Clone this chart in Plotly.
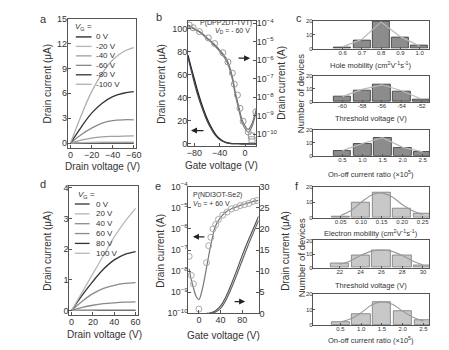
import plotly.graph_objects as go

W, H = 449, 350
FONT = "Liberation Sans, Arial, sans-serif"
TXT = "#333333"
AX = "#555555"

# ---------------- data ----------------
# panel a: output curves (p-type), drain voltage 0..-60 V
a_vd = [0, -10, -20, -30, -40, -50, -60]
a_vg_labels = ["0 V", "-20 V", "-40 V", "-60 V", "-80 V", "-100 V"]
a_id = [
    [0, 0, 0, 0, 0, 0, 0],
    [0, 0.05, 0.08, 0.1, 0.1, 0.1, 0.1],
    [0, 0.35, 0.6, 0.75, 0.8, 0.82, 0.85],
    [0, 1.0, 1.8, 2.4, 2.7, 2.8, 2.8],
    [0, 1.9, 3.6, 4.8, 5.6, 6.0, 6.2],
    [0, 3.3, 6.2, 8.4, 10.0, 11.0, 11.5],
]
a_colors = ["#222222", "#b5b5b5", "#a0a0a0", "#8a8a8a", "#333333", "#b0b0b0"]

# panel b: transfer curves (p-type)
b_vg = [-90, -85, -80, -75, -70, -65, -60, -55, -50, -45, -40, -35, -30, -25, -20, -10, 0, 18]
b_lin1 = [77, 66, 56, 46, 37, 29, 22, 16, 11, 7, 4.3, 2.4, 1.2, 0.5, 0.2, 0.05, 0, 0]
b_lin2 = [75, 64, 53, 43, 34.5, 27, 20, 14.5, 9.8, 6.2, 3.7, 2.0, 1.0, 0.4, 0.15, 0.03, 0, 0]
b_vg_log = [-90, -80, -70, -60, -50, -40, -30, -25, -20, -15, -10, -5, 0, 5, 10, 15, 18]
b_log1 = [7.9e-5, 5.0e-5, 3.2e-5, 1.6e-5, 7.9e-6, 3.5e-6, 1.26e-6, 5.0e-7, 1.26e-7, 1.6e-8, 3.2e-9, 6.3e-10, 2.8e-10, 1.8e-10, 3.2e-10, 1.0e-9, 2.5e-9]
b_log2 = [7.4e-5, 4.6e-5, 2.9e-5, 1.45e-5, 7.0e-6, 3.0e-6, 1.0e-6, 3.8e-7, 8.9e-8, 1.1e-8, 2.2e-9, 4.5e-10, 2.0e-10, 1.3e-10, 2.2e-10, 7.0e-10, 1.8e-9]
b_circ_x = [-88, -82, -72, -58, -48, -35, -27, -20, -17, -12, -8, -3, 5, 17]
b_circ_y = [7.9e-5, 5.6e-5, 3.5e-5, 1.6e-5, 7.9e-6, 2.5e-6, 7.9e-7, 2.0e-7, 5.0e-8, 1.3e-8, 2.5e-9, 5.0e-10, 1.3e-10, 1.6e-9]
b_sq_x = [10, 11]
b_sq_y = [8.0e-11, 5.0e-11]

# panel c: histograms (p-type)
c1_x = [0.6, 0.7, 0.8, 0.9, 1.0]
c1_n = [1, 6, 19, 8, 2]
c1_fit = [1.2, 6.5, 19, 8.5, 1.8]
c2_x = [-60, -58, -56, -54, -52]
c2_n = [4, 9, 13, 8, 2]
c2_fit = [4, 9.5, 13, 8.5, 2.2]
c3_x = [0.5, 1.0, 1.5, 2.0, 2.5]
c3_n = [4, 9, 14, 6, 3]
c3_fit = [4, 9.5, 14, 6.5, 3]
c1_labels = ["0.6", "0.7", "0.8", "0.9", "1.0"]
c2_labels = ["-60", "-58", "-56", "-54", "-52"]
c3_labels = ["0.5", "1.0", "1.5", "2.0", "2.5"]

# panel d: output curves (n-type)
d_vd = [0, 10, 20, 30, 40, 50, 60]
d_vg_labels = ["0 V", "20 V", "40 V", "60 V", "80 V", "100 V"]
d_id = [
    [0, 0, 0, 0, 0, 0, 0],
    [0, 0.01, 0.015, 0.02, 0.02, 0.02, 0.02],
    [0, 0.1, 0.17, 0.22, 0.25, 0.27, 0.28],
    [0, 0.3, 0.55, 0.72, 0.82, 0.88, 0.91],
    [0, 0.5, 0.95, 1.35, 1.65, 1.83, 1.92],
    [0, 0.6, 1.2, 1.8, 2.4, 2.9, 3.33],
]
d_colors = ["#333333", "#b5b5b5", "#8a8a8a", "#8a8a8a", "#333333", "#b8b8b8"]

# panel e: transfer curves (n-type)
e_vg_log = [-18, -15, -10, -5, 0, 5, 10, 15, 20, 25, 30, 40, 50, 60, 70, 80, 90, 100, 110]
e_log = [1.3e-8, 5.0e-9, 1.6e-9, 6.3e-10, 4.5e-10, 1.0e-9, 4.0e-9, 2.0e-8, 1.0e-7, 4.0e-7, 1.26e-6, 3.5e-6, 6.3e-6, 8.9e-6, 1.12e-5, 1.4e-5, 1.66e-5, 2.0e-5, 2.24e-5]
e_circ_x = [-18, -14, -10, 0, 14, 18, 22, 26, 31, 36, 44, 52, 60, 68, 76, 84, 92, 100, 107]
e_circ_y = [5.0e-8, 6.3e-9, 2.5e-9, 1.6e-10, 2.5e-8, 1.6e-7, 4.0e-7, 1.0e-6, 1.6e-6, 2.8e-6, 4.5e-6, 6.3e-6, 8.9e-6, 1.0e-5, 1.26e-5, 1.4e-5, 1.6e-5, 2.0e-5, 2.2e-5]
e_vg_lin = [15, 20, 30, 40, 50, 60, 70, 80, 90, 100, 110]
e_lin1 = [0, 0.1, 0.6, 1.8, 4.0, 7.0, 10.3, 13.8, 17.0, 20.0, 23.0]
e_lin2 = [0, 0, 0.3, 1.2, 3.2, 6.0, 9.2, 12.6, 15.9, 19.0, 22.0]

# panel f: histograms (n-type)
f1_x = [0.05, 0.10, 0.15, 0.20, 0.25]
f1_n = [1, 10, 16, 6, 3]
f1_fit_x = [0.05, 0.075, 0.10, 0.125, 0.145, 0.175, 0.20, 0.225, 0.25]
f1_fit = [1.5, 4.5, 10, 14.5, 16, 13.5, 8.5, 4.5, 2.2]
f2_x = [22, 24, 26, 28, 30]
f2_n = [3, 9, 13, 9, 2]
f2_fit_x = [22, 23, 24, 25, 26, 27, 28, 29, 30]
f2_fit = [2.5, 5, 9, 12, 13, 12, 9, 5, 2.2]
f3_x = [0.5, 1.0, 1.5, 2.0, 2.5]
f3_n = [2, 7, 15, 9, 3]
f3_fit_x = [0.5, 0.75, 1.0, 1.25, 1.5, 1.75, 2.0, 2.25, 2.5]
f3_fit = [2, 4, 8, 13, 15, 13.5, 9, 5, 2.5]
f1_labels = ["0.05", "0.10", "0.15", "0.20", "0.25"]
f2_labels = ["22", "24", "26", "28", "30"]
f3_labels = ["0.5", "1.0", "1.5", "2.0", "2.5"]


# ---------------- helpers ----------------
def px(x):
    return x / W


def py(y):
    return 1 - y / H


fig = go.Figure()
ann = []
shapes = []


def text(x, y, s, size=10, angle=0, xanchor="center", yanchor="middle", color=TXT):
    ann.append(dict(x=px(x), y=py(y), xref="paper", yref="paper", text=s, showarrow=False,
                    font=dict(size=size, color=color, family=FONT), textangle=angle,
                    xanchor=xanchor, yanchor=yanchor))


def base_axis(domain, **kw):
    d = dict(domain=domain, showline=True, linecolor=AX, linewidth=1, mirror=True,
             ticks="inside", ticklen=3, tickcolor=AX, showgrid=False, zeroline=False,
             ticklabelstandoff=-2,
             tickfont=dict(size=9, color=TXT, family=FONT))
    d.update(kw)
    return d


# ---------------- panel a ----------------
for name, ys, col in zip(a_vg_labels, a_id, a_colors):
    fig.add_trace(go.Scatter(x=a_vd, y=ys, mode="lines", line=dict(color=col, width=1.3, shape="spline"),
                             xaxis="x", yaxis="y", showlegend=False, name=name))

# ---------------- panel b ----------------
fig.add_trace(go.Scatter(x=b_vg, y=b_lin1, mode="lines", line=dict(color="#222222", width=1.3, shape="spline"),
                         xaxis="x2", yaxis="y2", showlegend=False))
fig.add_trace(go.Scatter(x=b_vg, y=b_lin2, mode="lines", line=dict(color="#444444", width=1.3, shape="spline"),
                         xaxis="x2", yaxis="y2", showlegend=False))
fig.add_trace(go.Scatter(x=b_vg_log, y=b_log1, mode="lines", line=dict(color="#666666", width=1.1, shape="spline"),
                         xaxis="x2", yaxis="y3", showlegend=False))
fig.add_trace(go.Scatter(x=b_vg_log, y=b_log2, mode="lines", line=dict(color="#777777", width=1.1, shape="spline"),
                         xaxis="x2", yaxis="y3", showlegend=False))
fig.add_trace(go.Scatter(x=b_circ_x, y=b_circ_y, mode="markers",
                         marker=dict(symbol="circle-open", size=6, color="#999999", line=dict(width=1)),
                         xaxis="x2", yaxis="y3", showlegend=False))
fig.add_trace(go.Scatter(x=b_sq_x, y=b_sq_y, mode="markers",
                         marker=dict(symbol="square-open", size=6, color="#999999", line=dict(width=1)),
                         xaxis="x2", yaxis="y3", showlegend=False))

# ---------------- panel c ----------------
for xs, ns, fit, xa, ya in [(c1_x, c1_n, c1_fit, "x3", "y4"), (c2_x, c2_n, c2_fit, "x4", "y5"),
                            (c3_x, c3_n, c3_fit, "x5", "y6")]:
    w = (xs[1] - xs[0]) * 0.88
    fig.add_trace(go.Bar(x=xs, y=ns, width=w, marker=dict(color="#8c8c8c", line=dict(color="#333333", width=0.8)),
                         xaxis=xa, yaxis=ya, showlegend=False))
    fig.add_trace(go.Scatter(x=xs, y=fit, mode="lines", line=dict(color="#b8b8b8", width=1.2),
                             xaxis=xa, yaxis=ya, showlegend=False))

# ---------------- panel d ----------------
for name, ys, col in zip(d_vg_labels, d_id, d_colors):
    fig.add_trace(go.Scatter(x=d_vd, y=ys, mode="lines", line=dict(color=col, width=1.3, shape="spline"),
                             xaxis="x6", yaxis="y7", showlegend=False, name=name))

# ---------------- panel e ----------------
fig.add_trace(go.Scatter(x=e_vg_log, y=e_log, mode="lines", line=dict(color="#777777", width=1.2, shape="spline"),
                         xaxis="x7", yaxis="y8", showlegend=False))
fig.add_trace(go.Scatter(x=e_circ_x, y=e_circ_y, mode="markers",
                         marker=dict(symbol="circle-open", size=6, color="#aaaaaa", line=dict(width=1)),
                         xaxis="x7", yaxis="y8", showlegend=False))
fig.add_trace(go.Scatter(x=e_vg_lin, y=e_lin1, mode="lines", line=dict(color="#555555", width=1.2, shape="spline"),
                         xaxis="x7", yaxis="y9", showlegend=False))
fig.add_trace(go.Scatter(x=e_vg_lin, y=e_lin2, mode="lines", line=dict(color="#666666", width=1.2, shape="spline"),
                         xaxis="x7", yaxis="y9", showlegend=False))

# ---------------- panel f ----------------
for xs, ns, fx, fit, xa, ya in [(f1_x, f1_n, f1_fit_x, f1_fit, "x8", "y10"), (f2_x, f2_n, f2_fit_x, f2_fit, "x9", "y11"),
                                (f3_x, f3_n, f3_fit_x, f3_fit, "x10", "y12")]:
    w = (xs[1] - xs[0]) * 0.88
    fig.add_trace(go.Bar(x=xs, y=ns, width=w, marker=dict(color="#c8c8c8", line=dict(color="#777777", width=0.8)),
                         xaxis=xa, yaxis=ya, showlegend=False))
    fig.add_trace(go.Scatter(x=fx, y=fit, mode="lines", line=dict(color="#999999", width=1.1, shape="spline"),
                             xaxis=xa, yaxis=ya, showlegend=False))

# ---------------- axes ----------------
HX = [px(316.7), px(435)]
hist_tick = dict(size=6, color=TXT, family=FONT)
log_tick = dict(size=7, color=TXT, family=FONT)
hk = dict(tickfont=hist_tick, ticklen=2, ticklabelstandoff=-2)
lay = dict(
    xaxis=base_axis([px(68), px(137)], anchor="y", range=[2.5, -62], tickvals=[0, -20, -40, -60]),
    yaxis=base_axis([py(146), py(12)], anchor="x", range=[-0.6, 15], tickvals=[0, 3, 6, 9, 12, 15]),

    xaxis2=base_axis([px(190), px(259.5)], anchor="y2", range=[-90, 18], tickvals=[-80, -40, 0], mirror=True),
    yaxis2=base_axis([py(144), py(14)], anchor="x2", range=[-2, 107], tickvals=[0, 20, 40, 60, 80, 100], mirror=False),
    yaxis3=base_axis([py(144), py(14)], anchor="x2", overlaying="y2", side="right", type="log",
                     range=[-10.64, -3.86], dtick=1, exponentformat="power", showline=True, mirror=False,
                     tickfont=log_tick),

    xaxis3=base_axis(HX, anchor="y4", range=[0.445, 1.05], tickvals=c1_x, ticktext=c1_labels, **hk),
    yaxis4=base_axis([py(43), py(14)], anchor="x3", range=[0, 20], tickvals=[0, 10, 20], **hk),
    xaxis4=base_axis(HX, anchor="y5", range=[-63, -51.2], tickvals=c2_x, ticktext=c2_labels, **hk),
    yaxis5=base_axis([py(98.3), py(71)], anchor="x4", range=[0, 20], tickvals=[0, 10, 20], **hk),
    xaxis5=base_axis(HX, anchor="y6", range=[-0.235, 2.66], tickvals=c3_x, ticktext=c3_labels, **hk),
    yaxis6=base_axis([py(154), py(127.3)], anchor="x5", range=[0, 20], tickvals=[0, 10, 20], **hk),

    xaxis6=base_axis([px(69.3), px(139)], anchor="y7", range=[-2.2, 62.1], tickvals=[0, 20, 40, 60]),
    yaxis7=base_axis([py(319), py(185)], anchor="x6", range=[-0.15, 4.07], tickvals=[0, 1, 2, 3, 4]),

    xaxis7=base_axis([px(190), px(261.7)], anchor="y8", range=[-20, 110], tickvals=[0, 40, 80]),
    yaxis8=base_axis([py(317.3), py(186)], anchor="x7", type="log", range=[-10, -4], dtick=1,
                     exponentformat="power", mirror=False, tickfont=log_tick),
    yaxis9=base_axis([py(317.3), py(186)], anchor="x7", overlaying="y8", side="right", range=[0, 30],
                     tickvals=[0, 5, 10, 15, 20, 25, 30], mirror=False),

    xaxis8=base_axis(HX, anchor="y10", range=[-0.018, 0.266], tickvals=f1_x, ticktext=f1_labels, **hk),
    yaxis10=base_axis([py(218.3), py(186)], anchor="x8", range=[0, 20], tickvals=[0, 10, 20], **hk),
    xaxis9=base_axis(HX, anchor="y11", range=[19.4, 30.6], tickvals=f2_x, ticktext=f2_labels, **hk),
    yaxis11=base_axis([py(270), py(241.7)], anchor="x9", range=[0, 20], tickvals=[0, 10, 20], **hk),
    xaxis10=base_axis(HX, anchor="y12", range=[-0.17, 2.64], tickvals=f3_x, ticktext=f3_labels, **hk),
    yaxis12=base_axis([py(329.3), py(297.3)], anchor="x10", range=[0, 20], tickvals=[0, 10, 20], **hk),
)

# ---------------- texts ----------------
# panel letters
text(43, 12, "a", 11)
text(160, 10, "b", 11)
text(303, 11, "c", 11)
text(43, 183, "d", 11)
text(159, 185, "e", 11)
text(301, 185, "f", 11)

# axis titles
text(47, 79, "Drain current (μA)", 10, -90)
text(103, 165, "Drain voltage (V)", 10)
text(163, 79, "Drain current (μA)", 10, -90)
text(285, 79, "Drain current (A)", 10, -90)
text(224, 164, "Gate voltage (V)", 10)
text(305, 90, "Number of devices", 9.5, -90)
text(376, 60, "Hole mobility (cm<sup>2</sup>V<sup>-1</sup>s<sup>-1</sup>)", 7.5)
text(376, 115, "Threshold voltage (V)", 7.5)
text(376, 173, "On-off current ratio (×10<sup>5</sup>)", 7.5)

text(47, 252, "Drain current (μA)", 10, -90)
text(105, 339.5, "Drain voltage (V)", 10)
text(162, 252, "Drain current (A)", 10, -90)
text(289, 252, "Drain current (μA)", 10, -90)
text(226, 340, "Gate voltage (V)", 10)
text(305, 260, "Number of devices", 9.5, -90)
text(376, 234, "Electron mobility (cm<sup>2</sup>V<sup>-1</sup>s<sup>-1</sup>)", 7.5)
text(376, 288, "Threshold voltage (V)", 7.5)
text(376, 345, "On-off current ratio (×10<sup>5</sup>)", 7.5)

# in-plot labels
text(257, 17, "P(DPP2DT-TVT)", 7, xanchor="right")
text(255, 25, "<i>V</i><sub>D</sub> = - 60 V", 7, xanchor="right")
text(193, 195, "P(NDI3OT-Se2)", 7, xanchor="left")
text(193, 204, "<i>V</i><sub>D</sub> = + 60 V", 7, xanchor="left")

# manual legends
text(84, 21, "<i>V</i><sub>G</sub> =", 8)
for i, (lab, col) in enumerate(zip(a_vg_labels, a_colors)):
    yy = 31 + i * 9.8
    shapes.append(dict(type="line", xref="paper", yref="paper", x0=px(76), x1=px(92), y0=py(yy), y1=py(yy),
                       line=dict(color=col, width=1.3)))
    text(94, yy, lab, 8, xanchor="left")

text(87, 195, "<i>V</i><sub>G</sub> =", 8)
for i, (lab, col) in enumerate(zip(d_vg_labels, d_colors)):
    yy = 204 + i * 10.2
    shapes.append(dict(type="line", xref="paper", yref="paper", x0=px(75), x1=px(90), y0=py(yy), y1=py(yy),
                       line=dict(color=col, width=1.3)))
    text(94, yy, lab, 8, xanchor="left")


# arrows (tail at x0,y0 ; head at x1,y1 ; pixel coordinates)
def arrow(x0, y0, x1, y1):
    ann.append(dict(x=px(x1), y=py(y1), xref="paper", yref="paper", ax=x0 - x1, ay=y0 - y1,
                    axref="pixel", ayref="pixel", text="", showarrow=True, arrowhead=2,
                    arrowsize=1, arrowwidth=1.2, arrowcolor="#222222"))


arrow(240, 53, 253, 53)
arrow(207, 128, 193, 128)
arrow(208, 238, 195, 238)
arrow(236, 305, 248, 305)

fig.update_layout(
    width=W, height=H, margin=dict(l=0, r=0, t=0, b=0),
    paper_bgcolor="white", plot_bgcolor="rgba(0,0,0,0)",
    font=dict(family=FONT, color=TXT), showlegend=False, bargap=0,
    annotations=ann, shapes=shapes, **lay)

fig.write_html("out.html")
